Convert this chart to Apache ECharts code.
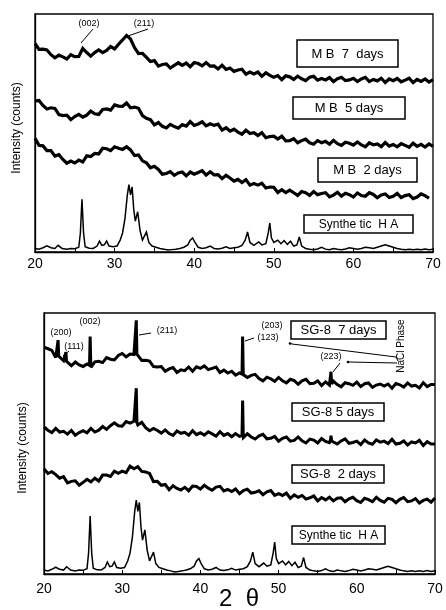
<!DOCTYPE html>
<html><head><meta charset="utf-8">
<script src="https://cdn.jsdelivr.net/npm/echarts@6/dist/echarts.min.js"></script>
<style>html,body{margin:0;padding:0;background:#fff}#c{width:446px;height:610px}</style>
</head><body><div id="c"></div>
<script>
// 2-theta grid (degrees) shared by the noisy patterns
const twoTheta = [20,20.5,21,21.5,22,22.5,23,23.5,24,24.5,25,25.5,26,26.5,27,27.5,28,28.5,29,29.5,
30,30.5,31,31.5,32,32.5,33,33.5,34,34.5,35,35.5,36,36.5,37,37.5,38,38.5,39,39.5,
40,40.5,41,41.5,42,42.5,43,43.5,44,44.5,45,45.5,46,46.5,47,47.5,48,48.5,49,49.5,
50,50.5,51,51.5,52,52.5,53,53.5,54,54.5,55,55.5,56,56.5,57,57.5,58,58.5,59,59.5,
60,60.5,61,61.5,62,62.5,63,63.5,64,64.5,65,65.5,66,66.5,67,67.5,68,68.5,69,69.5,70];
const xTicks = [20,30,40,50,60,70];

// relative intensity (% of panel height)
const mb7 = [87.6,85.1,85.2,84.9,82.9,81.6,82.7,82.0,81.1,82.9,82.1,82.2,85.5,83.8,82.3,83.8,84.9,83.8,84.7,86.3,
85.3,87.3,89.1,91.0,89.5,85.9,83.4,83.5,81.8,80.0,80.4,78.1,78.8,79.0,77.3,78.4,79.5,78.4,79.4,77.8,
79.6,79.2,78.2,79.6,78.1,78.2,76.9,78.5,76.7,77.3,75.9,76.5,76.8,74.7,75.6,74.8,75.6,73.8,75.3,74.2,
73.4,74.1,72.4,74.0,73.6,72.5,73.9,72.8,72.0,73.4,73.8,72.2,72.9,72.3,73.3,71.6,72.8,73.4,72.0,72.3,
73.0,71.6,72.7,73.4,71.6,72.5,71.9,73.0,71.2,72.7,72.0,72.9,71.5,72.2,73.0,71.2,72.5,71.7,72.7,71.4,72.4];
const mb5 = [63.4,63.7,61.6,60.1,60.6,60.3,57.7,57.3,57.5,55.6,56.9,57.8,56.7,57.5,59.2,58.1,57.8,59.9,60.1,59.6,
61.8,61.3,61.2,62.6,60.6,60.9,60.4,57.3,56.2,55.6,53.4,54.4,52.8,52.1,53.6,52.7,52.0,53.5,52.9,54.8,
53.2,53.8,54.7,53.0,53.9,53.2,53.7,51.2,52.2,50.8,51.6,50.4,49.5,51.2,49.8,50.1,48.9,50.1,48.0,48.5,
48.7,47.5,48.7,46.7,46.8,47.6,45.9,46.8,47.4,45.9,45.3,46.8,45.9,46.5,45.3,46.9,45.5,44.8,46.1,45.7,
44.9,46.2,45.0,44.2,45.9,45.0,45.4,44.3,46.0,44.5,45.2,44.2,45.5,44.8,44.0,45.7,44.4,45.2,44.1,45.4,44.4];
const mb2 = [47.8,44.8,44.6,42.6,42.6,40.3,40.9,38.9,37.3,38.2,37.4,38.6,37.8,40.4,40.1,41.4,41.2,43.6,43.4,42.6,
44.2,43.6,43.1,44.2,42.9,40.5,40.8,38.3,37.5,35.4,36.0,34.7,32.7,33.0,33.8,32.2,33.2,33.6,32.0,33.6,
32.7,33.4,34.2,32.3,33.7,32.4,32.5,30.8,32.2,31.1,29.8,30.5,29.2,30.4,28.1,28.8,28.1,28.9,26.9,27.3,
27.2,25.0,26.2,25.0,26.0,24.9,23.8,25.4,24.9,23.8,25.4,24.1,24.6,24.9,23.2,23.9,25.1,23.5,24.7,24.1,
23.1,24.8,23.7,23.4,24.9,24.2,22.8,24.0,24.4,22.9,23.4,24.6,22.9,23.7,24.1,22.4,23.1,24.4,23.7,22.6];
const sg7 = [86.9,86.3,85.7,82.9,83.2,81.7,82.0,79.8,81.2,80.1,79.5,80.5,79.2,81.3,81.5,81.0,82.9,82.3,82.0,83.7,
84.5,83.2,84.3,84.1,84.7,81.8,81.9,81.6,79.5,79.3,79.5,77.7,78.6,79.1,77.2,78.2,77.9,79.3,77.7,79.4,
78.8,79.7,78.3,78.8,79.3,77.2,78.1,77.0,77.7,76.2,77.0,77.1,75.3,76.1,76.5,74.9,74.0,75.4,74.8,73.8,
75.3,74.0,73.2,74.6,74.1,72.7,74.0,74.6,72.9,73.1,74.0,72.2,73.6,72.4,73.9,72.6,71.7,73.3,72.9,72.3,
73.5,71.8,72.9,73.2,71.5,72.4,72.8,72.0,72.8,71.2,73.0,72.5,71.6,73.2,72.0,72.3,71.3,73.3,71.8,72.6,72.6];
const sg7Peaks = [[21.72,83.6],[21.8,89.6],[21.88,83.5],[22.72,82.4],[22.8,85.0],[22.88,81.5],
[25.82,80.0],[25.9,91.0],[25.98,80.4],[31.72,84.8],[31.8,97.2],[31.88,84.2],
[45.32,76.6],[45.4,91.0],[45.48,76.4],[56.62,73.0],[56.7,77.5],[56.78,72.8]];
const sg5 = [56.4,55.1,54.2,55.8,54.4,54.7,53.6,55.0,53.2,54.2,54.9,54.1,55.8,54.4,55.1,56.5,55.4,56.8,57.9,56.8,
56.6,58.4,57.8,58.5,57.1,58.1,56.1,54.9,55.8,55.0,54.0,55.2,53.8,53.1,54.8,53.9,54.3,53.2,54.9,53.4,
54.1,53.2,54.5,53.7,52.8,54.5,53.1,53.8,52.6,53.8,52.7,52.3,53.7,52.5,51.7,52.9,53.5,51.8,52.0,52.7,
50.9,52.0,52.5,50.9,51.2,52.5,51.0,50.2,51.7,51.3,50.2,51.9,50.8,50.3,51.4,49.8,51.0,51.8,50.1,50.4,
50.9,49.6,51.3,50.2,49.7,51.4,50.5,50.9,50.0,51.6,49.8,50.1,51.0,49.4,50.6,50.2,51.2,49.2,50.7,49.8,49.8];
const sg5Peaks = [[31.72,58.2],[31.8,71.2],[31.88,58.0],[45.32,53.0],[45.4,66.5],[45.48,53.2],
[56.62,51.2],[56.7,53.0],[56.78,50.9]];
const sg2 = [40.3,38.5,39.2,38.1,36.7,37.3,34.9,35.5,35.7,34.0,35.1,36.3,35.3,36.7,35.6,37.9,37.9,37.4,39.4,38.6,
39.4,38.8,41.3,40.3,41.1,39.3,39.1,38.5,35.4,35.5,34.0,34.3,32.3,33.8,32.8,32.2,33.2,31.9,33.7,33.5,
32.5,34.0,32.9,32.1,33.3,33.6,31.8,32.4,31.6,32.6,30.8,32.0,32.5,31.0,31.3,31.9,30.4,31.5,32.0,30.1,
30.8,30.1,31.0,29.0,30.3,29.4,30.1,28.7,29.2,29.9,28.0,29.3,28.4,29.4,28.0,29.0,29.2,27.7,28.8,29.4,
28.1,27.4,29.0,28.5,27.7,29.4,28.2,27.5,29.0,28.6,27.3,28.6,29.3,27.7,28.0,28.9,27.2,28.2,28.7,27.5,29.1];
// synthetic hydroxyapatite reference pattern [2theta, %]
const haPattern = [[20,1.5],[20.5,1.2],[21,1.8],[21.5,2.6],[22,1.8],[22.5,1.5],[22.9,2.8],[23.4,1.5],[24,1.2],[24.5,1.5],
[25,1.4],[25.5,2.0],[25.7,8],[25.9,22.2],[26.1,8],[26.3,2.2],[26.8,1.6],[27.3,1.5],[27.8,2.5],[28.1,4.6],
[28.4,2.8],[28.7,3.0],[29.0,4.6],[29.3,2.5],[29.8,2.2],[30.3,2.5],[30.7,5],[31.0,8],[31.3,14],[31.6,24],
[31.8,28.3],[32.0,24],[32.2,27.4],[32.4,18],[32.6,13],[32.9,16.9],[33.2,9],[33.5,5],[34.0,8.4],[34.3,4],
[34.7,2.5],[35.2,2],[35.7,1.5],[36.2,1.2],[36.7,0.8],[37.2,1.0],[37.7,1.2],[38.2,1.5],[38.7,2.0],[39.2,3],
[39.5,5],[39.8,5.9],[40.1,4],[40.5,2],[41,1.5],[41.5,1.8],[42,2.5],[42.5,1.5],[43,1.3],[43.5,1.6],
[44,2.2],[44.5,1.5],[45,1.8],[45.5,2.0],[46,2.8],[46.4,5],[46.7,8.4],[47,4],[47.5,2.8],[48.1,4.2],
[48.5,3],[49,3.5],[49.3,8],[49.5,12.2],[49.7,6],[50,4],[50.5,5],[50.9,3.5],[51.3,4.8],[51.7,3.2],
[52.1,4.5],[52.5,2.5],[52.9,3],[53.2,6.3],[53.5,2.5],[54,1.5],[54.5,1.2],[55,1.0],[55.5,1.3],[56,2.0],
[56.5,1.2],[57,1.0],[57.5,1.5],[58,1.2],[58.5,1.0],[59,1.3],[59.5,1.8],[60,1.5],[60.5,1.2],[61,1.5],
[61.5,2],[62,1.8],[62.5,1.5],[63,2],[63.5,2.5],[64,3],[64.5,2.5],[65,2],[65.5,1.5],[66,1.2],
[66.5,1.0],[67,1.2],[67.5,1.0],[68,1.2],[68.5,1.0],[69,1.3],[69.5,1.0],[70,1.2]];

const topLabels = ['M B  7  days','M B  5 days','M B  2 days','Synthe tic  H A'];
const botLabels = ['SG-8  7 days','SG-8 5 days','SG-8  2 days','Synthe tic  H A'];

function pairs(ys, peaks) {
  const out = ys.map((y, i) => [twoTheta[i], y]);
  if (peaks) { peaks.forEach(p => out.push(p)); out.sort((a, b) => a[0] - b[0]); }
  return out;
}

const chart = echarts.init(document.getElementById('c'), null, {renderer: 'canvas'});
const FONT = 'Liberation Sans';
function xAx(idx) {
  return {
    gridIndex: idx, type: 'value', min: 20, max: 70, interval: 10,
    axisLine: {show: true, lineStyle: {color: '#000', width: 1.3}},
    axisTick: {show: true, inside: true, length: 4, lineStyle: {color: '#000', width: 1}},
    minorTick: {show: true, splitNumber: 2, length: 4, lineStyle: {color: '#000', width: 1}},
    splitLine: {show: false}, minorSplitLine: {show: false},
    axisLabel: {color: '#000', fontSize: 14, fontFamily: FONT, margin: idx === 0 ? 5 : 8,
      formatter: v => xTicks.indexOf(v) >= 0 ? String(v) : ''}
  };
}
function yAx(idx) {
  return {gridIndex: idx, type: 'value', min: 0, max: 100,
    axisLine: {show: true, lineStyle: {color: '#000', width: 1.3}},
    axisTick: {show: false}, axisLabel: {show: false}, splitLine: {show: false}};
}
function ln(data, gi, w) {
  return {type: 'line', data: data, xAxisIndex: gi, yAxisIndex: gi, symbol: 'none', showSymbol: false,
    lineStyle: {color: '#000', width: w, join: 'miter', miterLimit: 3}, silent: true, animation: false, clip: true, z: 2};
}
function box(x, y, w, h, text, fs) {
  return [
    {type: 'rect', shape: {x: x, y: y, width: w, height: h}, style: {fill: '#fff', stroke: '#000', lineWidth: 1.5}, z: 10},
    {type: 'text', x: x + w / 2, y: y + h / 2 + 0.5, style: {text: text, fill: '#000', font: (fs || 11) + 'px "' + FONT + '"', align: 'center', verticalAlign: 'middle'}, z: 11}
  ];
}
function t(x, y, text, fs, rot) {
  return {type: 'text', x: x, y: y, rotation: rot || 0, style: {text: text, fill: '#000', font: fs + 'px "' + FONT + '"', align: 'center', verticalAlign: 'middle'}, z: 11};
}
function seg(pts, w) {
  return {type: 'polyline', shape: {points: pts}, style: {stroke: '#000', lineWidth: w || 1, fill: null}, z: 11};
}

const graphics = [].concat(
  box(297, 40, 101, 27, topLabels[0], 13),
  box(293, 97, 112, 22, topLabels[1], 13),
  box(318, 158, 99, 24, topLabels[2], 13),
  box(304, 215, 109, 18, topLabels[3], 12),
  box(291, 321, 95, 18, botLabels[0], 13),
  box(292, 403, 92, 18, botLabels[1], 13),
  box(292, 465, 92, 18, botLabels[2], 13),
  box(292, 526, 93, 18, botLabels[3], 12),
  [
    t(17, 128, 'Intensity (counts)', 12, Math.PI / 2),
    t(23, 448, 'Intensity (counts)', 12, Math.PI / 2),
    t(239, 599, '2  θ', 24),
    // top panel annotations
    t(89, 24, '(002)', 9), seg([[93, 29], [81, 43]]),
    t(144, 24, '(211)', 9), seg([[148, 29], [128, 36]]),
    // bottom panel annotations
    t(61, 333, '(200)', 9),
    t(90, 322, '(002)', 9),
    t(74, 347, '(111)', 9), seg([[63, 356], [69, 351]]),
    t(167, 331, '(211)', 9), seg([[139, 335], [151, 333]]),
    t(272, 326, '(203)', 9),
    t(268, 338, '(123)', 9), seg([[245, 341], [254, 338]]),
    seg([[289, 343], [292, 344], [396, 357], [398, 361]]),
    t(331, 357, '(223)', 9), seg([[340, 363], [333, 372]]),
    seg([[348, 362], [397, 363]]),
    {type: 'circle', shape: {cx: 290, cy: 343.5, r: 1.3}, style: {fill: '#000'}, z: 11},
    {type: 'circle', shape: {cx: 348, cy: 362, r: 1.3}, style: {fill: '#000'}, z: 11},
    t(401, 346, 'NaCl Phase', 10, Math.PI / 2)
  ]
);

chart.setOption({
  animation: false,
  backgroundColor: '#fff',
  grid: [
    {left: 35, top: 14, width: 398, height: 238, show: true, borderColor: '#000', borderWidth: 1.3, containLabel: false},
    {left: 44, top: 313, width: 391, height: 261, show: true, borderColor: '#000', borderWidth: 1.3, containLabel: false}
  ],
  xAxis: [xAx(0), xAx(1)],
  yAxis: [yAx(0), yAx(1)],
  series: [
    ln(pairs(mb7), 0, 3.2),
    ln(pairs(mb5), 0, 3.2),
    ln(pairs(mb2), 0, 3.2),
    ln(haPattern, 0, 1.5),
    ln(pairs(sg7, sg7Peaks), 1, 3),
    ln(pairs(sg5, sg5Peaks), 1, 3),
    ln(pairs(sg2), 1, 3),
    ln(haPattern, 1, 1.5)
  ],
  graphic: graphics
});
</script></body></html>
